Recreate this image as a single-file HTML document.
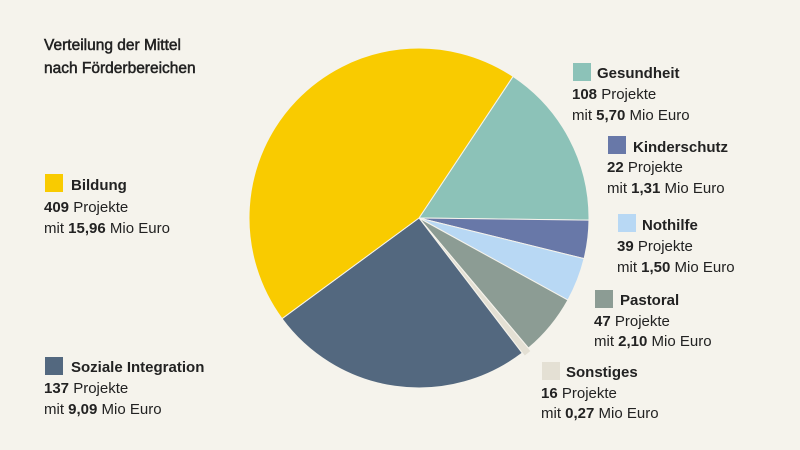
<!DOCTYPE html>
<html><head><meta charset="utf-8"><style>
html,body{margin:0;padding:0;background:#f5f3ec;}
svg{display:block}
text{font-family:"Liberation Sans",sans-serif;font-size:15px;fill:#222;}
.b{font-weight:bold}
.t{font-size:15.5px;fill:#222;stroke:#222;stroke-width:0.5px;}
</style></head><body>
<svg id="s" width="800" height="450" viewBox="0 0 800 450">
<rect width="800" height="450" fill="#f5f3ec"/>
<g id="pie"></g>
<text class="t" x="44" y="50">Verteilung der Mittel</text>
<text class="t" x="44" y="73">nach Förderbereichen</text>

<rect x="45" y="174" width="18" height="18" fill="#f9cb00"/>
<text class="b" x="71" y="190">Bildung</text>
<text x="44" y="212"><tspan class="b">409</tspan> Projekte</text>
<text x="44" y="233">mit <tspan class="b">15,96</tspan> Mio Euro</text>

<rect x="45" y="357" width="18" height="18" fill="#53687f"/>
<text class="b" x="71" y="372">Soziale Integration</text>
<text x="44" y="393"><tspan class="b">137</tspan> Projekte</text>
<text x="44" y="414">mit <tspan class="b">9,09</tspan> Mio Euro</text>

<rect x="573" y="63" width="18" height="18" fill="#8cc2b8"/>
<text class="b" x="597" y="78">Gesundheit</text>
<text x="572" y="99"><tspan class="b">108</tspan> Projekte</text>
<text x="572" y="120">mit <tspan class="b">5,70</tspan> Mio Euro</text>

<rect x="608" y="136" width="18" height="18" fill="#6878a8"/>
<text class="b" x="633" y="152">Kinderschutz</text>
<text x="607" y="172"><tspan class="b">22</tspan> Projekte</text>
<text x="607" y="193">mit <tspan class="b">1,31</tspan> Mio Euro</text>

<rect x="618" y="214" width="18" height="18" fill="#b8d8f4"/>
<text class="b" x="642" y="230">Nothilfe</text>
<text x="617" y="251"><tspan class="b">39</tspan> Projekte</text>
<text x="617" y="272">mit <tspan class="b">1,50</tspan> Mio Euro</text>

<rect x="595" y="290" width="18" height="18" fill="#8c9c94"/>
<text class="b" x="620" y="305">Pastoral</text>
<text x="594" y="326"><tspan class="b">47</tspan> Projekte</text>
<text x="594" y="346">mit <tspan class="b">2,10</tspan> Mio Euro</text>

<rect x="542" y="362" width="18" height="18" fill="#e4e0d4"/>
<text class="b" x="566" y="377">Sonstiges</text>
<text x="541" y="398"><tspan class="b">16</tspan> Projekte</text>
<text x="541" y="418">mit <tspan class="b">0,27</tspan> Mio Euro</text>
</svg>
<script>
var d=[[5.70,"#8cc2b8"],[1.31,"#6878a8"],[1.50,"#b8d8f4"],[2.10,"#8c9c94"],[0.27,"#e4e0d4"],[9.09,"#53687f"],[15.96,"#f9cb00"]];
var tot=0;d.forEach(function(x){tot+=x[0]});
var cx=419,cy=218,r=170,a=33.6,h="";
function p(ang,rr,ox,oy){var t=ang*Math.PI/180;return [(cx+ox+rr*Math.sin(t)).toFixed(2),(cy+oy-rr*Math.cos(t)).toFixed(2)];}
d.forEach(function(x,i){
 var sw=x[0]/tot*360,b=a+sw,ox=0,oy=0;
 if(i==4){var m=(a+b)/2*Math.PI/180;ox=4*Math.sin(m);oy=-4*Math.cos(m);}
 var s=p(a,r,ox,oy),e=p(b,r,ox,oy);
 h+='<path d="M'+(cx+ox)+','+(cy+oy)+' L'+s+' A'+r+','+r+' 0 '+(sw>180?1:0)+' 1 '+e+' Z" fill="'+x[1]+'" stroke="#f5f3ec" stroke-width="1"/>';
 a=b;
});
document.getElementById("pie").innerHTML=h;
</script>
</body></html>
